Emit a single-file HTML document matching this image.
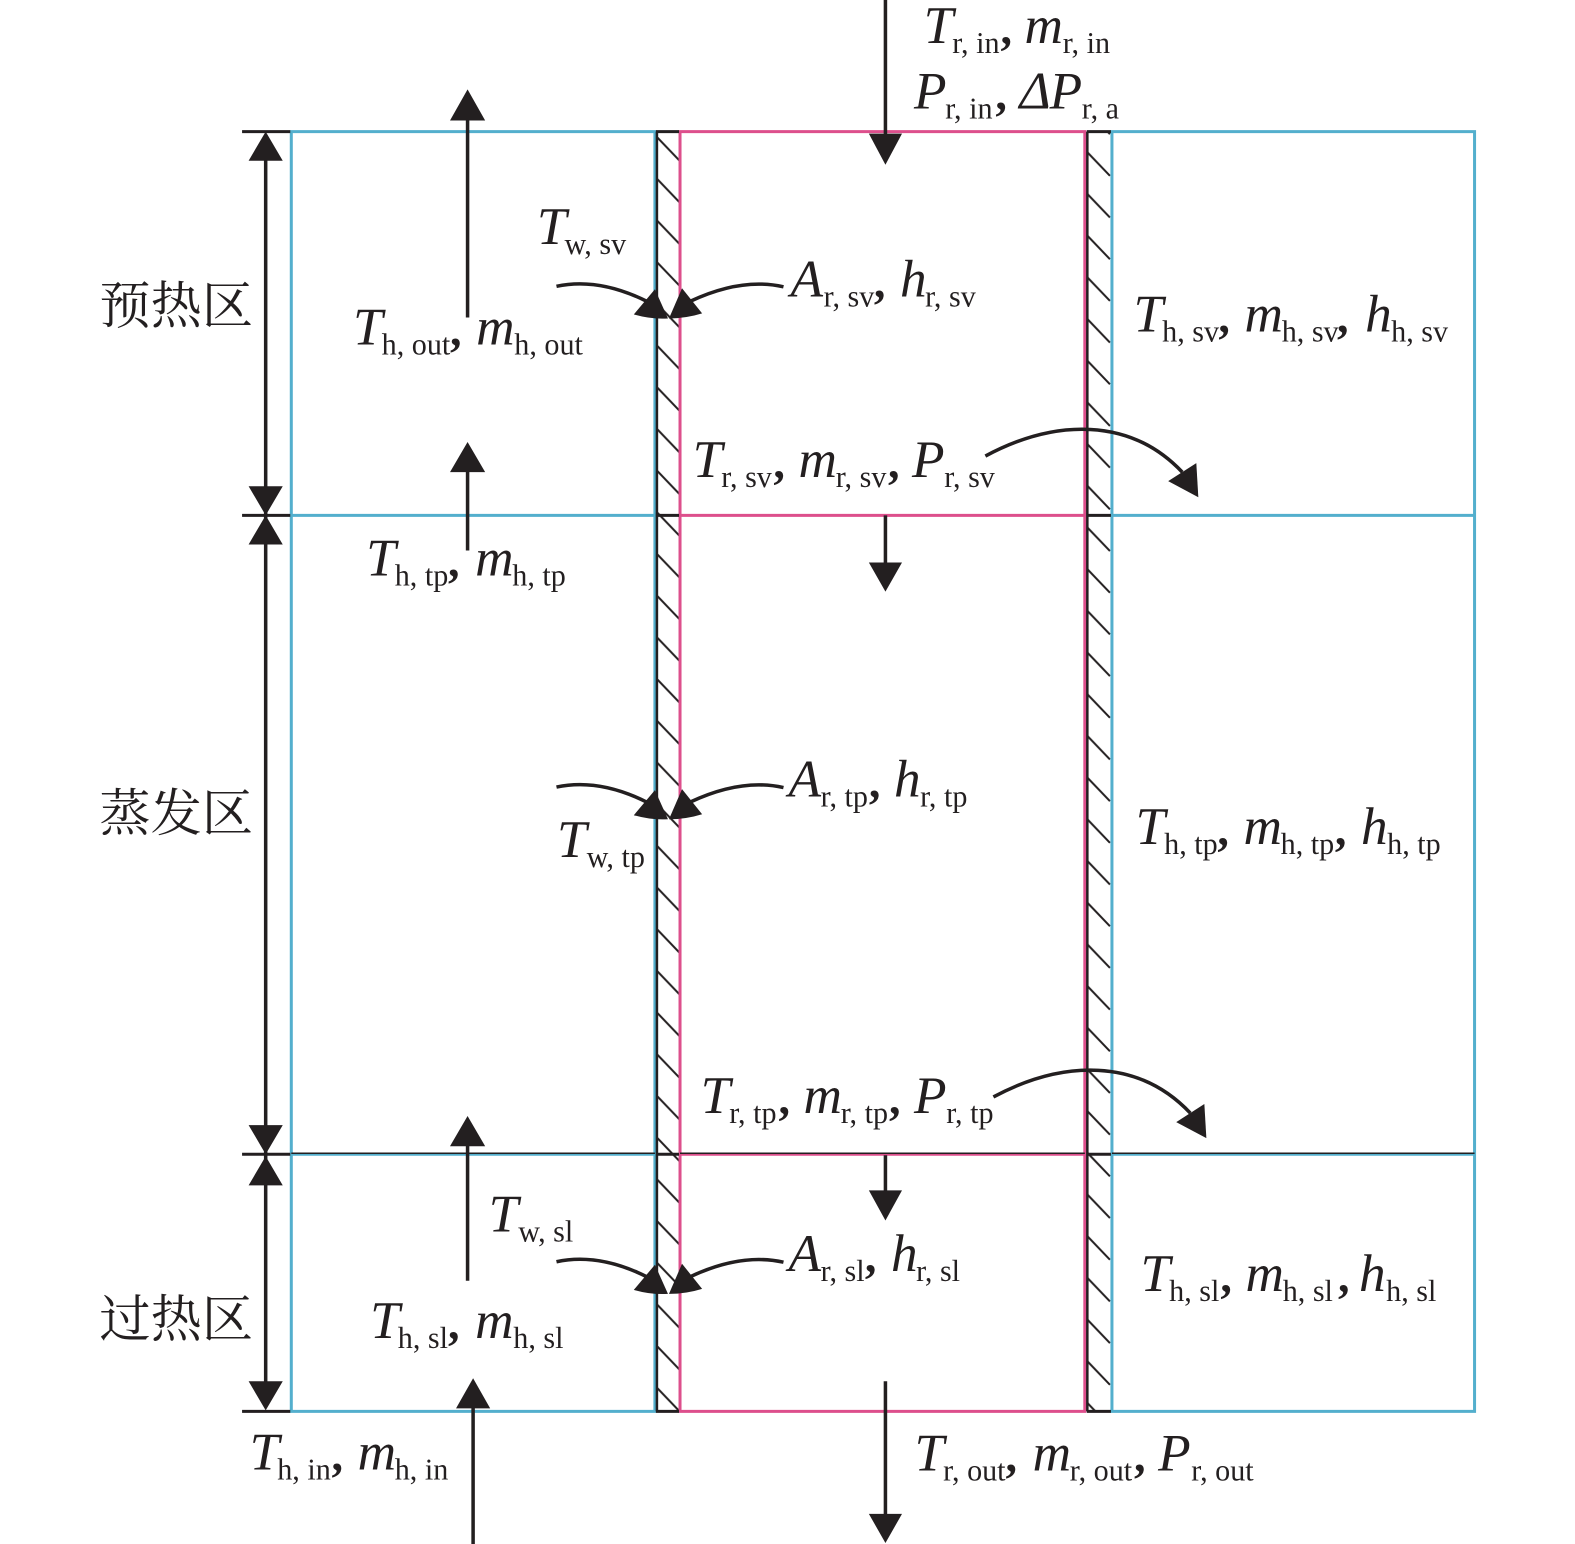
<!DOCTYPE html>
<html><head><meta charset="utf-8"><style>
html,body{margin:0;padding:0;background:#fff}
svg{display:block}
text{fill:#231f20;font-family:"Liberation Serif","Noto Serif CJK SC",serif}
.m{font-size:53px;font-style:italic}
.s{font-size:30px}
.k{font-size:46px;font-weight:bold}
.c{font-size:51px;font-family:"Noto Serif CJK SC","Liberation Serif",serif}
</style></head><body>
<svg xmlns="http://www.w3.org/2000/svg" width="1575" height="1544" viewBox="0 0 1568 1537" preserveAspectRatio="none">
<defs>
<pattern id="hl" patternUnits="userSpaceOnUse" x="654" y="136.4" width="25" height="41.5"><line x1="0" y1="0" x2="23" y2="24" stroke="#231f20" stroke-width="2"/></pattern>
<pattern id="hr" patternUnits="userSpaceOnUse" x="1082" y="151" width="25" height="41.5"><line x1="0" y1="0" x2="23" y2="24" stroke="#231f20" stroke-width="2"/></pattern>
<g id="cl"><path d="M554 285Q596 276 644 300" fill="none" stroke="#231f20" stroke-width="3.5"/><path d="M652 288L631 313Q648 318 665 317Z" fill="#231f20"/></g>
<g id="cr"><path d="M780 285.500Q738 276 687 300" fill="none" stroke="#231f20" stroke-width="3.5"/><path d="M679 287L666 317Q683 317 699 312Z" fill="#231f20"/></g>
<g id="co"><path d="M981 454C1050 417 1125 415 1177 470" fill="none" stroke="#231f20" stroke-width="3.5"/><path d="M1191 461L1163 479L1193 495Z" fill="#231f20"/></g>
</defs>
<rect x="654" y="131" width="23" height="1274" fill="url(#hl)"/>
<rect x="1082" y="131" width="25" height="1274" fill="url(#hr)"/>
<g fill="none" stroke="#53afcd" stroke-width="3">
<path d="M290 131H652V1405H290ZM290 513H652M290 1149H652"/>
<path d="M1107 131H1468V1405H1107ZM1107 513H1468M1107 1149H1468"/>
</g>
<g fill="none" stroke="#dd4f8c" stroke-width="3">
<path d="M677 131H1080V1405H677ZM677 513H1080M677 1149H1080"/>
</g>
<g fill="none" stroke="#231f20" stroke-width="2.5">
<path d="M654 131V1405M1082.500 131V1405"/>
<path stroke-width="3" d="M653 131H676M653 513H676M653 1149H676M653 1405H676M1082 131H1106M1082 513H1106M1082 1149H1106M1082 1405H1106"/>
<path stroke-width="3" d="M241 131H289M241 513H289M241 1149H289M241 1405H289"/>
<path stroke-width="1.500" d="M290 1148H652M677 1148H1080M1107 1148H1468"/>
</g>
<g fill="none" stroke="#231f20" stroke-width="3.5">
<path d="M264.500 150V1390"/>
<path d="M881.500 0V140M465.500 316V115M465.500 548V465M881.500 513V565M465.500 1275V1135M881.500 1150V1190M471 1537V1395M881.500 1375V1512"/>
</g>
<g fill="#231f20">
<path d="M264.500 131L247.500 160H281.500ZM264.500 513L247.500 484H281.500ZM264.500 513L247.500 542H281.500ZM264.500 1149L247.500 1120H281.500ZM264.500 1151L247.500 1180H281.500ZM264.500 1404L247.500 1375H281.500Z"/>
<path d="M881.500 164L865 133H898ZM465.500 89L448 120H483ZM465.500 440L448 470H483ZM881.500 589L865 560H898ZM465.500 1111L448 1141H483ZM881.500 1215L865 1185H898ZM471 1372L454 1402H488ZM881.500 1536L865 1507H898Z"/>
</g>
<use href="#cl"/><use href="#cr"/><use href="#co"/>
<use href="#cl" y="498.500"/><use href="#cr" y="498.500"/><use href="#co" x="8" y="638"/>
<use href="#cl" y="971"/><use href="#cr" y="971"/>

<text class="c" x="99" y="322">预热区</text>
<text class="c" x="99" y="827">蒸发区</text>
<text class="c" x="99" y="1331">过热区</text>

<text class="m" x="919.500" y="43">T</text><text class="s" x="948" y="53">r, in</text><text class="k" x="996" y="44">,</text><text class="m" x="1020" y="43">m</text><text class="s" x="1058" y="53">r, in</text>
<text class="m" x="910" y="108">P</text><text class="s" x="941" y="118">r, in</text><text class="k" x="991" y="109">,</text><text class="m" x="1015" y="108">Δ</text><text class="m" x="1045" y="108">P</text><text class="s" x="1077" y="118">r, a</text>

<text class="m" x="534.500" y="243">T</text><text class="s" x="562" y="253">w, sv</text>
<text class="m" x="351.500" y="343">T</text><text class="s" x="380" y="353">h, out</text><text class="k" x="448" y="344">,</text><text class="m" x="474" y="343">m</text><text class="s" x="512" y="353">h, out</text>
<text class="m" x="787" y="295">A</text><text class="s" x="820" y="305">r, sv</text><text class="k" x="870" y="296">,</text><text class="m" x="896" y="295">h</text><text class="s" x="921" y="305">r, sv</text>
<text class="m" x="1128.500" y="330">T</text><text class="s" x="1157" y="340">h, sv</text><text class="k" x="1213" y="331">,</text><text class="m" x="1239" y="330">m</text><text class="s" x="1276" y="340">h, sv</text><text class="k" x="1331" y="331">,</text><text class="m" x="1359" y="330">h</text><text class="s" x="1385" y="340">h, sv</text>
<text class="m" x="689.500" y="475">T</text><text class="s" x="718" y="485">r, sv</text><text class="k" x="770" y="476">,</text><text class="m" x="795" y="475">m</text><text class="s" x="832" y="485">r, sv</text><text class="k" x="884" y="476">,</text><text class="m" x="908" y="475">P</text><text class="s" x="940" y="485">r, sv</text>

<text class="m" x="364.500" y="573">T</text><text class="s" x="393" y="583">h, tp</text><text class="k" x="446" y="574">,</text><text class="m" x="473" y="573">m</text><text class="s" x="510" y="583">h, tp</text>
<text class="m" x="785" y="793">A</text><text class="s" x="817" y="803">r, tp</text><text class="k" x="865" y="794">,</text><text class="m" x="890" y="793">h</text><text class="s" x="916" y="803">r, tp</text>
<text class="m" x="554.500" y="853">T</text><text class="s" x="584" y="863">w, tp</text>
<text class="m" x="1130.500" y="840">T</text><text class="s" x="1159" y="850">h, tp</text><text class="k" x="1212" y="841">,</text><text class="m" x="1238" y="840">m</text><text class="s" x="1275" y="850">h, tp</text><text class="k" x="1329" y="841">,</text><text class="m" x="1355" y="840">h</text><text class="s" x="1381" y="850">h, tp</text>
<text class="m" x="697.500" y="1108">T</text><text class="s" x="726" y="1118">r, tp</text><text class="k" x="775" y="1109">,</text><text class="m" x="800" y="1108">m</text><text class="s" x="837" y="1118">r, tp</text><text class="k" x="885" y="1109">,</text><text class="m" x="910" y="1108">P</text><text class="s" x="942" y="1118">r, tp</text>

<text class="m" x="486.500" y="1226">T</text><text class="s" x="516" y="1236">w, sl</text>
<text class="m" x="785" y="1265">A</text><text class="s" x="817" y="1275">r, sl</text><text class="k" x="861" y="1266">,</text><text class="m" x="887" y="1265">h</text><text class="s" x="912" y="1275">r, sl</text>
<text class="m" x="1135.500" y="1285">T</text><text class="s" x="1164" y="1295">h, sl</text><text class="k" x="1215" y="1286">,</text><text class="m" x="1240" y="1285">m</text><text class="s" x="1277" y="1295">h, sl</text><text class="k" x="1332" y="1286">,</text><text class="m" x="1353" y="1285">h</text><text class="s" x="1380" y="1295">h, sl</text>
<text class="m" x="368.500" y="1332">T</text><text class="s" x="396" y="1342">h, sl</text><text class="k" x="446" y="1333">,</text><text class="m" x="473" y="1332">m</text><text class="s" x="511" y="1342">h, sl</text>
<text class="m" x="248.500" y="1463">T</text><text class="s" x="276" y="1473">h, in</text><text class="k" x="330" y="1464">,</text><text class="m" x="356" y="1463">m</text><text class="s" x="393" y="1473">h, in</text>
<text class="m" x="910.500" y="1464">T</text><text class="s" x="939" y="1474">r, out</text><text class="k" x="1001" y="1465">,</text><text class="m" x="1028" y="1464">m</text><text class="s" x="1065" y="1474">r, out</text><text class="k" x="1129" y="1465">,</text><text class="m" x="1153" y="1464">P</text><text class="s" x="1186" y="1474">r, out</text>
</svg>
</body></html>
